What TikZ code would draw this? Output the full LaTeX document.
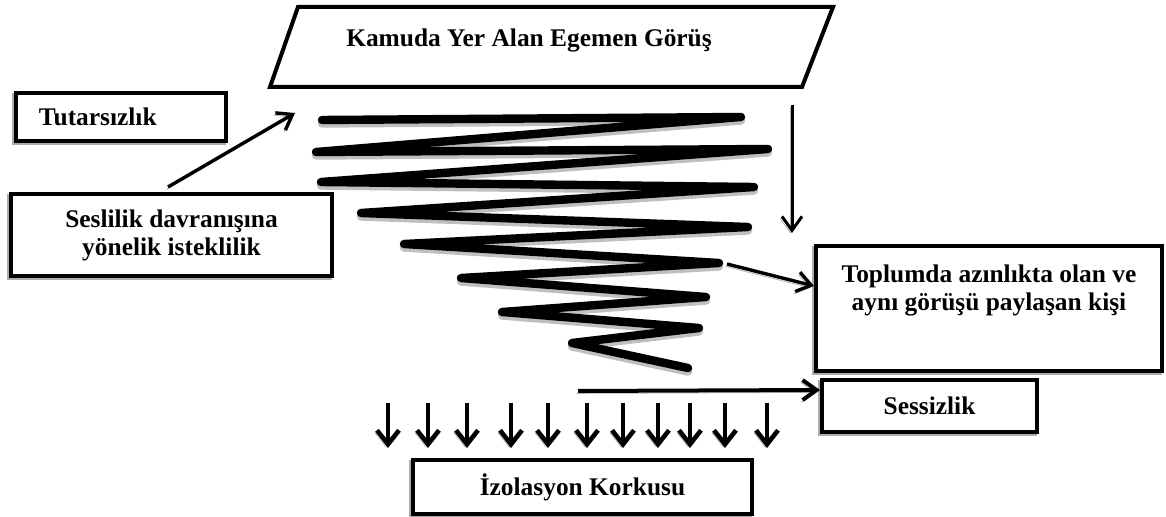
\documentclass[tikz,border=0pt]{standalone}
\usepackage{fontspec}
\setmainfont{Liberation Serif}
\usetikzlibrary{arrows.meta}

\begin{document}
\begin{tikzpicture}[x=0.5pt,y=-0.5pt,
  lbl/.style={font=\fontsize{12.7}{14}\selectfont\bfseries, align=center, inner sep=0pt},
  box/.style={draw, line width=2pt, fill=white, inner sep=0pt,
    preaction={draw=gray!65, line width=2pt, transform canvas={shift={(-1pt,-1pt)}}}},
  coil/.style={line width=4.2pt, line cap=round, line join=round},
  arr/.style={line width=1.7pt, -{Straight Barb[length=7pt,width=10pt]},
    preaction={draw=gray!60, transform canvas={shift={(-0.8pt,-1.2pt)}}}},
  darr/.style={line width=2.3pt, -{Straight Barb[length=7pt,width=11pt]},
    preaction={draw=gray!60, transform canvas={shift={(-1pt,-1.2pt)}}}}
]
\useasboundingbox (0,0) rectangle (1166,517);

% heading parallelogram
\draw[line width=2pt, fill=white] (298,7) -- (833,7) -- (802,87) -- (270,87) -- cycle;
\node[lbl] (title) at (529,40) {Kamuda Yer Alan Egemen Görüş};

% boxes
\node[box, font=\fontsize{12.7}{14}\selectfont\bfseries, align=left,
      text width=82pt, inner xsep=11.5pt, minimum height=24pt] (tutar) at (121,117) {Tutarsızlık};
\node[box, lbl, minimum width=160.5pt, minimum height=41pt] (ses) at (171.5,235)
  {Seslilik davranışına\\yönelik isteklilik};
\node[box, minimum width=173pt, minimum height=62.5pt] (toplum) at (989,308.5) {};
\node[lbl] (toplumtxt) at (989,290) {Toplumda azınlıkta olan ve\\aynı görüşü paylaşan kişi};
\node[box, lbl, minimum width=107.5pt, minimum height=26pt] (sess) at (929.5,406) {Sessizlik};
\node[box, lbl, minimum width=169.5pt, minimum height=27pt] (izol) at (582.5,487) {İzolasyon Korkusu};

% the narrowing coil, with its shadow first
\foreach \dx/\dy/\c in {0/3.5/gray!50, 0/0/black} {
  \draw[coil, draw=\c, shift={(\dx,\dy)}]
    (322,120) -- (741,117) -- (316,152) -- (768,149) -- (321,182) -- (754,187)
    -- (361,213) -- (748,227) -- (404,244) -- (719,263) -- (461,278) -- (706,297)
    -- (502,312) -- (699,328) -- (572,343) -- (688,368);
}

% connectors
\coordinate (sesout) at (168,187);
\coordinate (titlein) at (295,113);
\draw[arr] (sesout) -- (titlein);

\coordinate (downtop) at (792,105);
\coordinate (downend) at (792,233);
\draw[arr, line width=1.5pt] (downtop) -- (downend);

\coordinate (coilout) at (727,264);
\draw[arr] (coilout) -- (toplum.west |- 0,286);

\coordinate (sessout) at (578,391);
\draw[arr, line width=2pt] (sessout) -- (sess.west |- 0,390);

% row of arrows over the lower box
\foreach \x [count=\i] in {388,428,467,511,548,587,623,658,690,725,767} {
  \coordinate (d\i a) at (\x,403);
  \coordinate (d\i b) at (\x,448);
  \draw[darr] (d\i a) -- (d\i b);
}
\end{tikzpicture}
\end{document}
